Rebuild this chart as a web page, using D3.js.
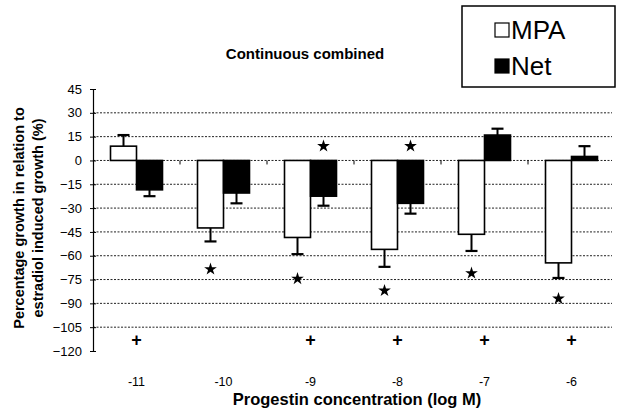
<!DOCTYPE html>
<html><head><meta charset="utf-8">
<script src="https://cdn.jsdelivr.net/npm/d3@7"></script>
<style>
body{margin:0;background:#fff;}
text{font-family:"Liberation Sans",Arial,sans-serif;fill:#000;}
</style></head>
<body><svg id="c" width="617" height="408"></svg>
<script>
const categories = ["-11","-10","-9","-8","-7","-6"];
const series = ["MPA","Net"];
const mpa = [9, -42.5, -48.5, -56, -46.5, -64.5];
const mpaErr = [7, 8.5, 10.5, 11, 10.5, 9.5];
const net = [-18.5, -20.5, -22.5, -27, 16, 2.5];
const netErr = [4, 6.5, 6, 6.5, 4, 6.5];
const mpaStar = [null, -68.5, -74.5, -82, -71, -87];
const netStar = [null, null, 9, 9, null, null];
const plusMark = [-113, null, -113, -113, -113, -113];
const yTicks = [45,30,15,0,-15,-30,-45,-60,-75,-90,-105,-120];
const gridTicks = [30,15,0,-15,-30,-45,-60,-75,-90,-105];

const svg = d3.select("#c");
const x0 = d3.scaleBand().domain(categories).range([93,615]).padding(0);
const x1 = d3.scaleBand().domain(series).range([17.5,69.5]);
const y = d3.scaleLinear().domain([-120,45]).range([351,89]);

// gridlines
svg.append("g").selectAll("line").data(gridTicks).join("line")
  .attr("x1",93).attr("x2",612)
  .attr("y1",d=>y(d)).attr("y2",d=>y(d))
  .attr("stroke","#222").attr("stroke-width",1).attr("stroke-dasharray","2,1.5");

// y axis
const ya = svg.append("g").attr("transform","translate(93,0)")
  .call(d3.axisLeft(y).tickValues(yTicks).tickSize(3).tickPadding(8).tickFormat(d3.format("d")));
ya.select(".domain").attr("stroke","#000").attr("stroke-width",1.2);
ya.selectAll(".tick line").attr("stroke","#000").attr("x2",-3).attr("x1",3);
ya.selectAll("text").style("font-size","13px").style("font-family","Liberation Sans, Arial, sans-serif");

// category boundary ticks on zero line
svg.append("g").selectAll("line").data(categories.slice(1)).join("line")
  .attr("x1",d=>x0(d)).attr("x2",d=>x0(d))
  .attr("y1",y(0)).attr("y2",y(0)+4).attr("stroke","#000").attr("stroke-width",1);

const rows = categories.map((c,i)=>[
  {c, s:"MPA", v:mpa[i], e:mpaErr[i], star:mpaStar[i]},
  {c, s:"Net", v:net[i], e:netErr[i], star:netStar[i]}
]).flat();

const g = svg.append("g");
// error bars
rows.forEach(r=>{
  const cx = x0(r.c)+x1(r.s)+x1.bandwidth()/2;
  const end = r.v + (r.v>=0 ? r.e : -r.e);
  g.append("line").attr("x1",cx).attr("x2",cx).attr("y1",y(r.v)).attr("y2",y(end))
    .attr("stroke","#000").attr("stroke-width",2);
  g.append("line").attr("x1",cx-6).attr("x2",cx+6).attr("y1",y(end)).attr("y2",y(end))
    .attr("stroke","#000").attr("stroke-width",2.2);
});
// bars
g.selectAll("rect").data(rows).join("rect")
  .attr("x",d=>x0(d.c)+x1(d.s))
  .attr("width",x1.bandwidth())
  .attr("y",d=>y(Math.max(0,d.v)))
  .attr("height",d=>Math.abs(y(d.v)-y(0)))
  .attr("fill",d=>d.s==="MPA"?"#fff":"#000")
  .attr("stroke","#000").attr("stroke-width",1.6);

// stars
const starPath = d3.symbol().type(d3.symbolStar).size(50);
rows.filter(r=>r.star!==null).forEach(r=>{
  const cx = x0(r.c)+x1(r.s)+x1.bandwidth()/2;
  g.append("path").attr("d",starPath()).attr("transform",`translate(${cx},${y(r.star)})`).attr("fill","#000");
});
// plus marks
categories.forEach((c,i)=>{
  if(plusMark[i]===null) return;
  const cx = x0(c)+x0.bandwidth()/2;
  g.append("text").attr("x",cx).attr("y",y(plusMark[i])+6).attr("text-anchor","middle")
   .style("font-size","18px").style("font-weight","bold").text("+");
});

// x labels
svg.append("g").selectAll("text").data(categories).join("text")
  .attr("x",d=>x0(d)+x0.bandwidth()/2).attr("y",386).attr("text-anchor","middle")
  .style("font-size","12.5px").text(d=>d);

svg.append("text").attr("x",357).attr("y",405).attr("text-anchor","middle")
  .style("font-size","16.5px").style("font-weight","bold").text("Progestin concentration (log M)");

svg.append("text").attr("x",305).attr("y",59).attr("text-anchor","middle")
  .style("font-size","15px").style("font-weight","bold").text("Continuous combined");

const yl = svg.append("text").attr("transform","translate(0,218) rotate(-90)").attr("text-anchor","middle")
  .style("font-size","14.5px").style("font-weight","bold");
yl.append("tspan").attr("x",0).attr("y",24).text("Percentage growth in relation to");
yl.append("tspan").attr("x",0).attr("y",43).text("estradiol induced growth (%)");

// legend
const lg = svg.append("g");
lg.append("rect").attr("x",462).attr("y",6).attr("width",153).attr("height",81)
  .attr("fill","#fff").attr("stroke","#000").attr("stroke-width",1.5);
const legendItems = [{s:"MPA",fill:"#fff",yy:30},{s:"Net",fill:"#000",yy:66}];
legendItems.forEach(it=>{
  lg.append("rect").attr("x",495).attr("y",it.yy-7).attr("width",14).attr("height",14)
    .attr("fill",it.fill).attr("stroke","#000").attr("stroke-width",1.2);
  lg.append("text").attr("x",511).attr("y",it.yy+9).style("font-size","26px").text(it.s);
});
</script></body></html>
